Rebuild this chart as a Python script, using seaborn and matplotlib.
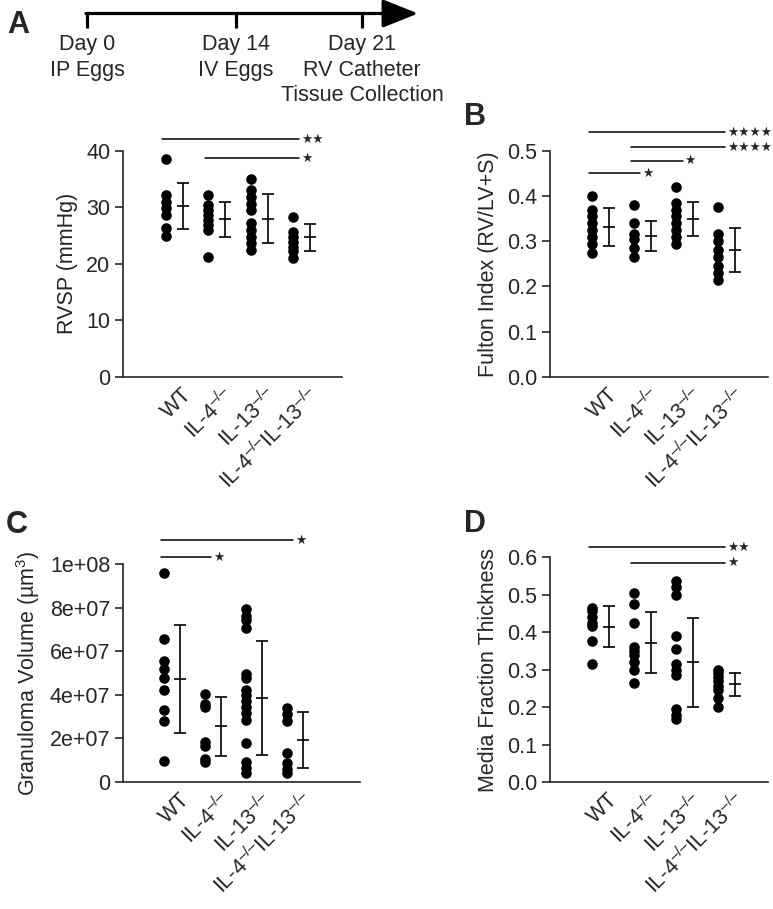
import matplotlib
matplotlib.use("Agg")
import matplotlib.pyplot as plt
import matplotlib.transforms as mtransforms
import seaborn as sns
import pandas as pd

# --- data ---
groups = ["WT", "IL-4", "IL-13", "IL-4/IL-13"]
group_labels = ["WT", "IL-4$^{–/–}$", "IL-13$^{–/–}$", "IL-4$^{–/–}$IL-13$^{–/–}$"]

timeline_events = ["Day 0\nIP Eggs", "Day 14\nIV Eggs", "Day 21\nRV Catheter\nTissue Collection"]

rvsp_wt = [38.5, 32.2, 31.0, 29.8, 28.6, 26.3, 24.9]
rvsp_il4 = [32.2, 30.4, 29.5, 28.6, 27.8, 26.9, 26.0, 21.2]
rvsp_il13 = [34.9, 33.0, 31.8, 30.6, 29.5, 27.2, 26.0, 24.8, 23.6, 22.4]
rvsp_dko = [28.2, 25.7, 24.8, 23.9, 23.0, 22.2, 21.0]
rvsp_mean = [30.2, 27.9, 28.0, 24.65]
rvsp_sd = [4.0, 3.1, 4.35, 2.45]

fulton_wt = [0.40, 0.37, 0.355, 0.34, 0.325, 0.31, 0.295, 0.275]
fulton_il4 = [0.38, 0.34, 0.315, 0.305, 0.285, 0.265]
fulton_il13 = [0.42, 0.385, 0.37, 0.355, 0.34, 0.325, 0.31, 0.295]
fulton_dko = [0.375, 0.315, 0.30, 0.28, 0.265, 0.245, 0.23, 0.215]
fulton_mean = [0.331, 0.312, 0.349, 0.281]
fulton_sd = [0.042, 0.033, 0.038, 0.049]

gran_wt = [9.6e7, 6.55e7, 5.55e7, 5.2e7, 4.75e7, 4.2e7, 3.3e7, 2.8e7, 0.95e7]
gran_il4 = [4.05e7, 3.6e7, 3.45e7, 1.85e7, 1.65e7, 1.05e7, 0.9e7]
gran_il13 = [7.95e7, 7.6e7, 7.45e7, 7.05e7, 4.95e7, 4.75e7, 4.2e7, 4.0e7,
             3.7e7, 3.45e7, 3.15e7, 2.85e7, 1.8e7, 0.9e7, 0.65e7, 0.4e7]
gran_dko = [3.4e7, 3.1e7, 2.8e7, 1.35e7, 0.85e7, 0.6e7, 0.4e7]
gran_mean = [4.74e7, 2.55e7, 3.84e7, 1.94e7]
gran_sd = [2.47e7, 1.36e7, 2.62e7, 1.285e7]

media_wt = [0.465, 0.455, 0.44, 0.425, 0.415, 0.375, 0.315]
media_il4 = [0.505, 0.475, 0.425, 0.36, 0.35, 0.34, 0.32, 0.30, 0.265]
media_il13 = [0.535, 0.52, 0.50, 0.39, 0.355, 0.315, 0.30, 0.285, 0.195, 0.18, 0.168]
media_dko = [0.30, 0.29, 0.28, 0.27, 0.255, 0.245, 0.225, 0.20]
media_mean = [0.414, 0.372, 0.319, 0.2606]
media_sd = [0.055, 0.082, 0.1185, 0.0306]

# significance bars: (group a, group b, stars, height)
rvsp_sig = [("WT", "IL-4/IL-13", "★★", 42.0), ("IL-4", "IL-4/IL-13", "★", 38.65)]
fulton_sig = [("WT", "IL-4/IL-13", "★★★★", 0.542), ("IL-4", "IL-4/IL-13", "★★★★", 0.508),
              ("IL-4", "IL-13", "★", 0.4786), ("WT", "IL-4", "★", 0.4505)]
gran_sig = [("WT", "IL-4/IL-13", "★", 1.109e8), ("WT", "IL-4", "★", 1.031e8)]
media_sig = [("WT", "IL-4/IL-13", "★★", 0.6266), ("IL-4", "IL-4/IL-13", "★", 0.585)]


def long_df(*cols):
    rows = []
    for g, vals in zip(groups, cols):
        rows += [(g, v) for v in vals]
    return pd.DataFrame(rows, columns=["group", "value"])


sns.set_style("ticks")
plt.rcParams["font.family"] = ["Liberation Sans", "DejaVu Sans"]
plt.rcParams["mathtext.fontset"] = "custom"
plt.rcParams["mathtext.rm"] = "Liberation Sans"
plt.rcParams["mathtext.it"] = "Liberation Sans:italic"
plt.rcParams["mathtext.bf"] = "Liberation Sans:bold"

FS = 15.5
fig = plt.figure(figsize=(7.73, 9.09), dpi=100)

# background axes in pixel coordinates for the timeline and panel letters
bg = fig.add_axes([0, 0, 1, 1])
bg.set_xlim(0, 773)
bg.set_ylim(909, 0)
bg.axis("off")

tl_x = [87, 236, 362]
bg.annotate("", xy=(418, 13.5), xytext=(86, 13.5),
            arrowprops=dict(arrowstyle="-|>,head_length=0.55,head_width=0.22",
                            mutation_scale=40, lw=2.3, color="black",
                            shrinkA=0, shrinkB=0))
bg.vlines(tl_x, 13.5, 28, color="black", lw=2.3)
for x, ev in zip(tl_x, timeline_events):
    for k, line in enumerate(ev.split("\n")):
        bg.text(x, 50 + k * 25.7, line, ha="center", va="baseline", fontsize=FS)

for letter, (lx, ly) in zip("ABCD", [(7, 33), (464, 125), (6, 533), (464, 532)]):
    bg.text(lx, ly, letter, fontsize=22, fontweight="bold", ha="left", va="baseline")


def panel(rect, cols, means, sds, sigs, ylim, yticks, ylabels, ylabel, xright):
    ax = fig.add_axes(rect)
    df = long_df(*cols)
    sns.stripplot(data=df, x="group", y="value", order=groups, jitter=False,
                  color="black", size=7.6, linewidth=0, ax=ax, zorder=3)
    xs = [i + 0.4 for i in range(len(groups))]
    ax.errorbar(xs, means, yerr=sds, fmt="_", color="black", markersize=8,
                markeredgewidth=1.2, elinewidth=1.2, capsize=4, capthick=1.2)
    ax.set_xlim(-1.0, xright)
    ax.set_ylim(*ylim)
    ax.set_yticks(yticks)
    ax.set_yticklabels(ylabels, fontsize=FS)
    ax.set_ylabel(ylabel, fontsize=FS, labelpad=6)
    ax.set_xlabel("")
    ax.tick_params(axis="x", length=0, pad=5)
    ax.tick_params(axis="y", length=6, width=1.2, pad=3)
    ax.set_xticks(range(len(groups)))
    ax.set_xticklabels(group_labels, fontsize=FS, rotation=45, ha="right",
                       rotation_mode="anchor")
    off = mtransforms.ScaledTranslation(11 / 72, 0, fig.dpi_scale_trans)
    for lab in ax.get_xticklabels():
        lab.set_transform(lab.get_transform() + off)
    sns.despine(ax=ax)
    for s in ["left", "bottom"]:
        ax.spines[s].set_linewidth(1.2)
    for a, b, stars, h in sigs:
        x0 = groups.index(a) - 0.08
        x1 = groups.index(b) + 0.15
        ax.plot([x0, x1], [h, h], color="black", lw=1.1, clip_on=False)
        ax.annotate(stars, (x1, h), xytext=(1.5, 0), textcoords="offset points",
                    ha="left", va="center", fontsize=9, family=["DejaVu Sans"],
                    annotation_clip=False)
    return ax


panel([0.1591, 0.5853, 0.2833, 0.2490], [rvsp_wt, rvsp_il4, rvsp_il13, rvsp_dko],
      rvsp_mean, rvsp_sd, rvsp_sig, (0, 40), [0, 10, 20, 30, 40],
      ["0", "10", "20", "30", "40"], "RVSP (mmHg)", 4.15)

fy = [0.0, 0.1, 0.2, 0.3, 0.4, 0.5]
panel([0.7115, 0.5856, 0.2820, 0.2483], [fulton_wt, fulton_il4, fulton_il13, fulton_dko],
      fulton_mean, fulton_sd, fulton_sig, (0, 0.5), fy,
      [f"{v:.1f}" for v in fy], "Fulton Index (RV/LV+S)", 4.18)

gy = [0, 2e7, 4e7, 6e7, 8e7, 1e8]
panel([0.1591, 0.1397, 0.3066, 0.2398], [gran_wt, gran_il4, gran_il13, gran_dko],
      gran_mean, gran_sd, gran_sig, (0, 1e8), gy,
      ["0" if v == 0 else f"{v:.0e}" for v in gy], "Granuloma Volume (µm$^3$)", 4.78)

my = [0.0, 0.1, 0.2, 0.3, 0.4, 0.5, 0.6]
panel([0.7115, 0.1397, 0.2820, 0.2475], [media_wt, media_il4, media_il13, media_dko],
      media_mean, media_sd, media_sig, (0, 0.6), my,
      [f"{v:.1f}" for v in my], "Media Fraction Thickness", 4.18)

fig.savefig("out.png", dpi=100)
